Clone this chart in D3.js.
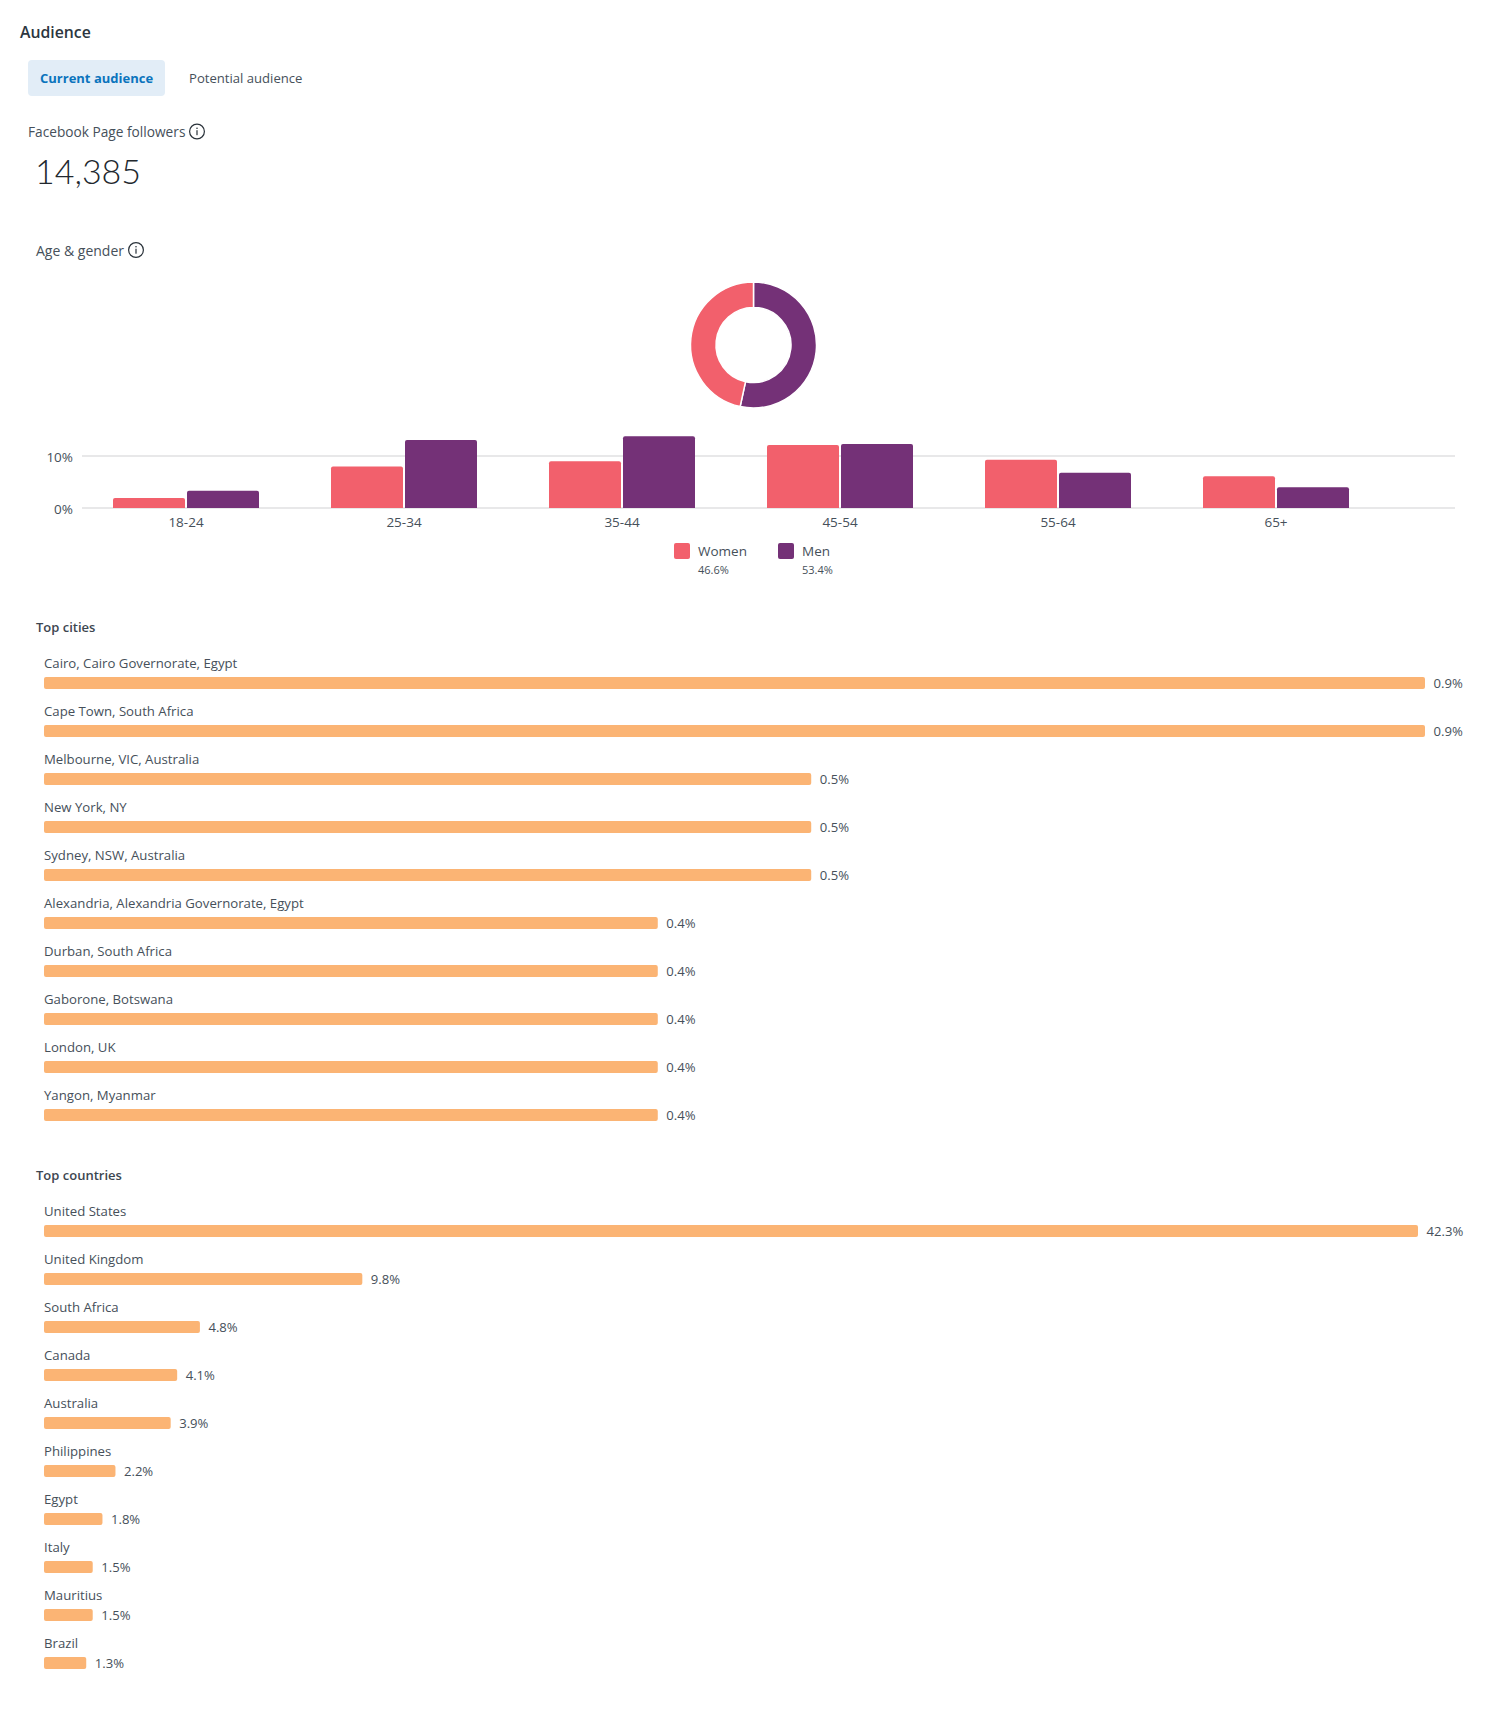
<!DOCTYPE html>
<html>
<head>
<meta charset="utf-8">
<title>Audience</title>
<script src="https://cdn.jsdelivr.net/npm/d3@7/dist/d3.min.js"></script>
<style>
html,body{margin:0;padding:0;background:#fff}
svg{display:block}
text{font-family:"Open Sans",sans-serif;fill:#46505a}
</style>
</head>
<body>
<svg id="page" width="1507" height="1717"></svg>
<script>
// Audience overview data
const ageGroups = ["18-24","25-34","35-44","45-54","55-64","65+"];
const women = [1.9,8.0,9.0,12.1,9.3,6.1];
const men = [3.3,13.1,13.8,12.3,6.8,4.0];
const genderNames = ["Women","Men"];
const genderShares = [46.6,53.4];
const ageTicks = [0,10];

const cityNames = ["Cairo, Cairo Governorate, Egypt","Cape Town, South Africa","Melbourne, VIC, Australia","New York, NY","Sydney, NSW, Australia","Alexandria, Alexandria Governorate, Egypt","Durban, South Africa","Gaborone, Botswana","London, UK","Yangon, Myanmar"];
const cityValues = [0.9,0.9,0.5,0.5,0.5,0.4,0.4,0.4,0.4,0.4];
const countryNames = ["United States","United Kingdom","South Africa","Canada","Australia","Philippines","Egypt","Italy","Mauritius","Brazil"];
const countryValues = [42.3,9.8,4.8,4.1,3.9,2.2,1.8,1.5,1.5,1.3];

const CORAL = "#f2606c", PURPLE = "#743177", ORANGE = "#fbb474", GRID = "#e8e8e9";
const svg = d3.select("#page");

function label(x, y, str, size, opts = {}) {
  return svg.append("text").attr("x", x).attr("y", y).text(str)
    .style("font-size", size + "px")
    .style("font-weight", opts.weight || 400)
    .style("fill", opts.fill || "#46505a")
    .style("font-family", opts.family || null)
    .attr("text-anchor", opts.anchor || "start");
}

function infoIcon(cx, cy) {
  const g = svg.append("g").attr("transform", `translate(${cx},${cy})`);
  g.append("circle").attr("r", 7.4).attr("fill", "none").attr("stroke", "#2a323a").attr("stroke-width", 1.2);
  g.append("circle").attr("cy", -3.2).attr("r", 0.8).attr("fill", "#2a323a");
  g.append("rect").attr("x", -0.6).attr("y", -1.3).attr("width", 1.2).attr("height", 5).attr("fill", "#2a323a");
}

// Header block
label(20, 38, "Audience", 15.8, {weight: 600, fill: "#2c3640"});
svg.append("rect").attr("x", 28).attr("y", 60).attr("width", 137).attr("height", 36).attr("rx", 4).attr("fill", "#e2edf7");
label(40, 83, "Current audience", 13, {weight: 700, fill: "#0b74bd"});
label(189, 83, "Potential audience", 13.1);
label(28, 137, "Facebook Page followers", 13.7);
infoIcon(197, 131.5);
label(35, 184, "14,385", 34, {family: "Lato", weight: 300, fill: "#22282e"});
label(36, 256, "Age & gender", 14);
infoIcon(136, 250);

// Gender donut
const pie = d3.pie().sort(null).startAngle(0).endAngle(2 * Math.PI);
const arc = d3.arc().innerRadius(37.5).outerRadius(63);
svg.append("g").attr("transform", "translate(753.5,345)")
  .selectAll("path")
  .data(pie([genderShares[1], genderShares[0]]))
  .join("path")
  .attr("d", arc)
  .attr("fill", (d, i) => i === 0 ? PURPLE : CORAL)
  .attr("stroke", "#fff")
  .attr("stroke-width", 1.5);

// Age and gender grouped bars
const yAge = d3.scaleLinear().domain([0, 10]).range([508, 456]);
const xAge = d3.scaleBand().domain(ageGroups).range([77, 1385]);
const barW = 72, barGap = 2;

svg.append("g").selectAll("line").data(ageTicks).join("line")
  .attr("x1", 82).attr("x2", 1455)
  .attr("y1", d => yAge(d)).attr("y2", d => yAge(d))
  .attr("stroke", GRID).attr("stroke-width", 2);
ageTicks.forEach(t => label(73, yAge(t) + 5.5, t + "%", 13.5, {anchor: "end"}));

function topRoundedBar(x, w, top, bottom, r) {
  return `M${x},${bottom}V${top + r}Q${x},${top} ${x + r},${top}H${x + w - r}Q${x + w},${top} ${x + w},${top + r}V${bottom}Z`;
}

ageGroups.forEach((age, i) => {
  const mid = xAge(age) + xAge.bandwidth() / 2;
  svg.append("path").attr("fill", CORAL)
    .attr("d", topRoundedBar(mid - barGap / 2 - barW, barW, yAge(women[i]), yAge(0), 2));
  svg.append("path").attr("fill", PURPLE)
    .attr("d", topRoundedBar(mid + barGap / 2, barW, yAge(men[i]), yAge(0), 2));
  label(mid, 527, age, 13.5, {anchor: "middle"});
});

// Gender legend
[[674, CORAL], [778, PURPLE]].forEach(([x, c], i) => {
  svg.append("rect").attr("x", x).attr("y", 543).attr("width", 16).attr("height", 16).attr("rx", 2).attr("fill", c);
  label(x + 24, 556, genderNames[i], 13.5);
  label(x + 24, 574, genderShares[i].toFixed(1) + "%", 11);
});

// Ranked horizontal bar lists
function rankedBars(names, values, title, titleY, firstCentre, maxX) {
  label(36, titleY, title, 13, {weight: 600, fill: "#3c4650"});
  const x = d3.scaleLinear().domain([0, d3.max(values)]).range([44, maxX]);
  const y = d3.scaleBand().domain(names).range([firstCentre - 24, firstCentre - 24 + names.length * 48]);
  const rows = svg.append("g").selectAll("g").data(names).join("g");
  rows.append("rect")
    .attr("x", x(0))
    .attr("y", d => y(d) + y.bandwidth() / 2 - 6)
    .attr("width", (d, i) => x(values[i]) - x(0))
    .attr("height", 12).attr("rx", 2).attr("fill", ORANGE);
  names.forEach((n, i) => {
    const c = y(n) + y.bandwidth() / 2;
    label(44, c - 15, n, 13.2);
    label(x(values[i]) + 8.5, c + 5, values[i].toFixed(1) + "%", 13.1);
  });
}

rankedBars(cityNames, cityValues, "Top cities", 632, 683, 1425);
rankedBars(countryNames, countryValues, "Top countries", 1180, 1231, 1418);
</script>
</body>
</html>
